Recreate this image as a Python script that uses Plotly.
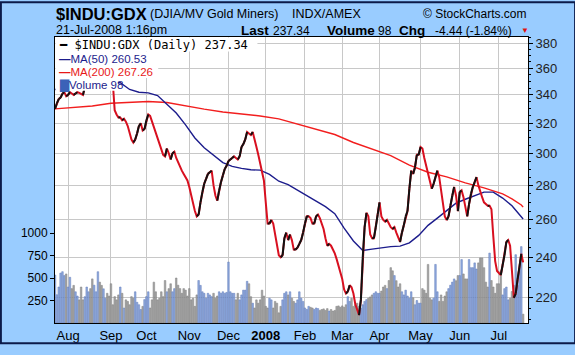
import math
import pandas as pd
import plotly.graph_objects as go

# ---------------- data ----------------
holidays = ["2007-09-03", "2007-11-22", "2007-12-25", "2008-01-01", "2008-01-21",
            "2008-02-18", "2008-03-21", "2008-05-26", "2008-07-04"]
dates = [d for d in pd.bdate_range("2007-07-23", "2008-07-21")
         if d.strftime("%Y-%m-%d") not in holidays]

close = [
    330, 334, 337, 338, 341, 342, 339, 340, 342, 341, 340, 341, 342, 341.5, 341, 340,
    346, 349, 352, 350, 347, 350, 354, 356, 353, 351, 354, 357, 355, 352, 350,
    349, 329, 326, 324, 324, 322, 323, 321, 318, 314,
    309, 307, 309, 313, 318, 320, 315, 316, 322, 326,
    325, 321, 317, 314, 309, 305, 302, 299, 298, 303,
    300, 296, 300, 301, 297, 294, 291, 289, 287, 285,
    283, 279, 274, 269, 265, 262, 263, 270, 276, 281,
    284, 287, 288, 289, 280, 274, 271, 277, 282, 286,
    290, 292, 295, 296, 297, 298, 297, 296, 298, 304,
    306, 309, 314, 313, 312, 314, 308, 304, 299, 294,
    289, 283, 270, 258, 258, 260, 258, 252, 246, 241,
    240, 241, 250, 253, 249, 252, 249, 244, 244, 245,
    247, 249, 253, 258, 262, 262, 261, 258, 258, 262,
    263, 261, 258, 255, 250, 246, 247, 246, 244, 242,
    239, 236, 232, 229, 224, 222, 223, 226, 225, 222,
    217, 214, 212, 219, 240, 256, 264, 262, 252, 250,
    250, 256, 263, 270, 262, 260, 259, 260, 258, 256,
    255, 256, 253, 250, 248, 253, 257, 262, 265, 278,
    289, 287, 291, 299, 299, 304, 303, 297, 292, 288,
    284, 278, 281, 285, 289, 285, 276, 268, 262, 260,
    262, 268, 274, 279, 274, 265, 276, 277, 273, 267,
    262, 269, 275, 279, 282, 285, 280, 276, 273, 270,
    269, 268, 268, 266, 251, 238, 233, 232, 231, 236,
    241, 248, 249, 246, 233, 220, 222, 229, 235, 241.78, 237.34,
]

volume = [
    533, 314, 400, 555, 570, 527, 545,
    400, 508, 382, 418, 347, 300, 257, 400, 257, 293, 400, 347, 382, 490, 420, 347, 570, 454, 418, 380, 275, 330, 300,
    436, 203, 293, 257, 312, 400, 330, 167, 257, 240, 203, 293, 275, 347, 230, 203, 150, 185, 260,
    293, 347, 167, 257, 454, 347, 257, 275, 347, 293, 472, 347, 382, 436, 347, 382, 500, 420, 382, 330, 382, 365, 300,
    382, 257, 275, 185, 312, 472, 418, 347, 330, 275, 330, 312, 293, 330, 275, 300, 347, 330, 347, 330, 340,
    677, 347, 330, 330, 257, 330, 257, 312, 365, 365, 463, 436, 293, 220, 167, 257, 220, 257, 365, 300,
    185, 167, 275, 257, 167, 240, 220, 113, 185, 257, 330, 347, 312, 347, 275, 240, 220, 257, 347, 275, 240,
    167, 150, 185, 175, 167, 150, 167, 160, 140, 150, 157, 140, 160, 132, 150, 132, 140, 185, 190, 175,
    190, 175, 203, 293, 240, 275, 185, 203, 220, 185, 167, 203, 240, 260, 275, 290, 312, 330, 347, 330,
    330, 355, 400, 418, 382, 472, 615, 580, 527, 470, 400, 436, 347, 312, 365, 300, 275, 347, 280, 203, 250, 220,
    220, 382, 365, 330, 651, 275, 257, 275, 651, 347, 240, 312, 240, 300, 347, 382, 420, 454, 490, 470, 527,
    527, 705, 545, 490, 490, 705, 615, 615, 668, 600, 668, 723, 723, 615, 454, 400, 777, 472, 400, 330, 436,
    436, 580, 312, 382, 400, 257, 275, 350, 418, 759, 418, 600, 849, 98,
]

ma50_day = [0, 5, 10, 15, 20, 25, 30, 35, 40, 45, 50, 55, 60, 65, 70, 75, 80, 85, 90, 95,
            100, 105, 110, 115, 120, 125, 130, 135, 140, 145, 150, 155, 160, 165, 170, 175,
            180, 185, 190, 195, 200, 205, 210, 215, 220, 225, 230, 235, 240, 245, 250, 251]
ma50 = [344, 345, 346, 347, 348, 349, 349.5, 349, 344, 342, 341.5, 339.5, 333.5, 327, 318.8,
        310, 303.5, 298.5, 294, 291.7, 290.4, 289.6, 289.3, 286.7, 282.5, 280.5, 277.3, 274.2,
        271, 267.5, 263.5, 255.5, 248.5, 243.5, 244.2, 245, 245.5, 245.8, 247.5, 251.5, 257,
        261, 265, 269.5, 271.8, 274, 276, 276, 272.5, 268, 261.5, 260.53]

ma200_day = [0, 10, 20, 30, 40, 50, 60, 70, 80, 90, 100, 110, 120, 130, 140, 150, 160, 170,
             180, 190, 200, 210, 220, 230, 240, 245, 250, 251]
ma200 = [330, 330.8, 332, 334, 334.8, 335.2, 334.5, 332, 329.8, 327.8, 326.5, 325, 323,
         319.5, 315.8, 312.3, 307, 302.5, 298.5, 292.5, 288, 285.2, 281.5, 278.5, 275, 272,
         268.5, 267.26]

month_labels = ["Aug", "Sep", "Oct", "Nov", "Dec", "<b>2008</b>", "Feb", "Mar", "Apr",
                "May", "Jun", "Jul"]
price_ticks = [220, 240, 260, 280, 300, 320, 340, 360, 380]
volume_ticks = [250, 500, 750, 1000]

# ---------------- figure ----------------
n = len(close)
idx = list(range(n))
month_idx = []
seen = set()
for i, d in enumerate(dates):
    key = (d.year, d.month)
    if key not in seen:
        seen.add(key)
        if i > 0:
            month_idx.append(i)

bar_fill, bar_edge = [], []
for i in range(n):
    up = i == 0 or close[i] >= close[i - 1]
    bar_fill.append("#86A3DC" if up else "#9E9E9E")
    bar_edge.append("#5673B4" if up else "#767676")

FONT = "Liberation Sans, Arial, sans-serif"
fig = go.Figure()

fig.add_trace(go.Bar(x=idx, y=volume,
                     marker=dict(color=bar_fill, line=dict(width=0.5, color=bar_edge)),
                     opacity=0.92, yaxis="y", hoverinfo="skip"))

fig.add_trace(go.Scatter(x=ma200_day, y=ma200, mode="lines", yaxis="y2",
                         line=dict(color="#F21E1E", width=1.4), hoverinfo="skip"))
fig.add_trace(go.Scatter(x=ma50_day, y=ma50, mode="lines", yaxis="y2",
                         line=dict(color="#1C1C8C", width=1.4), hoverinfo="skip"))

fig.add_trace(go.Scatter(x=idx, y=close, mode="lines", yaxis="y2",
                         line=dict(color="#D81020", width=2), hoverinfo="skip"))
ux, uy = [], []
for i in range(1, n):
    if close[i] >= close[i - 1]:
        ux += [i - 1, i, None]
        uy += [close[i - 1], close[i], None]
fig.add_trace(go.Scatter(x=ux, y=uy, mode="lines", yaxis="y2", connectgaps=False,
                         line=dict(color="#111111", width=2), hoverinfo="skip"))

W, H = 472.0, 296.0
L, T = 55.0, 37.0
def px(X):
    return (X - L) / W
def py(Y):
    return (T + H - Y) / H

def note(x, y, text, size, anchor="left", family=FONT, color="#000"):
    return dict(x=px(x), y=py(y), text=text, font=dict(size=size, family=family, color=color),
                xanchor=anchor, yanchor="middle", xref="paper", yref="paper", showarrow=False)

ann = [
    note(54, 13, "<b>$INDU:GDX</b>", 16.5),
    note(148, 13.5, "(DJIA/MV Gold Miners)", 12.5),
    note(290, 13.5, "INDX/AMEX", 12.5),
    note(528, 13.5, "© StockCharts.com", 12, anchor="right"),
    note(54, 29.5, "21-Jul-2008 1:16pm", 12.5),
    note(239, 30, "<b>Last</b>", 13.5),
    note(271, 30.5, "237.34", 12),
    note(324, 30, "<b>Volume</b>", 13.5),
    note(375, 30.5, "98", 12),
    note(396, 30, "<b>Chg</b>", 13.5),
    note(432, 30.5, "-4.44 (-1.84%)", 12),
    note(524.5, 30.5, "▼", 8, anchor="center", color="#E01010"),
    # legend rows
    note(57, 45, "━ $INDU:GDX (Daily) 237.34", 12, family="DejaVu Sans Mono"),
    note(57, 59.3, "<b>—</b>MA(50) 260.53", 11.5, color="#1C1C8C"),
    note(57, 73, "<b>—</b>MA(200) 267.26", 11.5, color="#E81818"),
    note(57, 86.7, "<span style='color:#3B62B8'>▇</span>Volume 98", 11.5, color="#1C1C8C"),
]

shapes = [
    # white legend backing (covers the lines, like the original)
    dict(type="rect", xref="paper", yref="paper", x0=px(55.5), x1=px(257), y0=py(52), y1=py(37.5),
         fillcolor="white", line=dict(width=0), layer="above"),
    dict(type="rect", xref="paper", yref="paper", x0=px(55.5), x1=px(152), y0=py(66), y1=py(52),
         fillcolor="white", line=dict(width=0), layer="above"),
    dict(type="rect", xref="paper", yref="paper", x0=px(55.5), x1=px(158), y0=py(79.5), y1=py(66),
         fillcolor="white", line=dict(width=0), layer="above"),
    dict(type="rect", xref="paper", yref="paper", x0=px(55.5), x1=px(118), y0=py(92.5), y1=py(79.5),
         fillcolor="white", line=dict(width=0), layer="above"),
    # outer border
    dict(type="rect", xref="paper", yref="paper", x0=px(1), x1=px(574), y0=py(354), y1=py(1),
         line=dict(color="#0B1A4A", width=2), fillcolor="rgba(0,0,0,0)", layer="above"),
]

fig.update_layout(
    width=575, height=355,
    margin=dict(l=55, r=47, t=37, b=22),
    paper_bgcolor="#99CCFF", plot_bgcolor="white",
    showlegend=False, bargap=0.15,
    font=dict(family=FONT, color="#000"),
    xaxis=dict(range=[0, 253.6], tickmode="array", tickvals=month_idx, ticktext=month_labels,
               showgrid=True, gridcolor="#C8C8C8", gridwidth=1, ticks="", zeroline=False,
               showline=True, linecolor="#000", linewidth=1, mirror=True,
               tickfont=dict(size=13, family=FONT, color="#000")),
    yaxis=dict(range=[0, 3178], tickmode="array", tickvals=volume_ticks, side="left",
               showgrid=False, zeroline=False, ticks="outside", ticklen=4, tickcolor="#000",
               showline=True, linecolor="#000", linewidth=1, mirror=True,
               tickfont=dict(size=12, family=FONT, color="#000")),
    yaxis2=dict(type="log", overlaying="y", side="right",
                range=[math.log10(208.4), math.log10(385)],
                tickmode="array", tickvals=price_ticks, showgrid=True, gridcolor="#C8C8C8",
                gridwidth=1, zeroline=False, ticks="outside", ticklen=4, tickcolor="#000",
                minor=dict(tickvals=list(range(210, 390, 5)), ticks="outside", ticklen=2,
                           tickcolor="#000", showgrid=False),
                tickfont=dict(size=13, family=FONT, color="#222")),
    annotations=ann,
    shapes=shapes,
)

fig.write_html("out.html")
